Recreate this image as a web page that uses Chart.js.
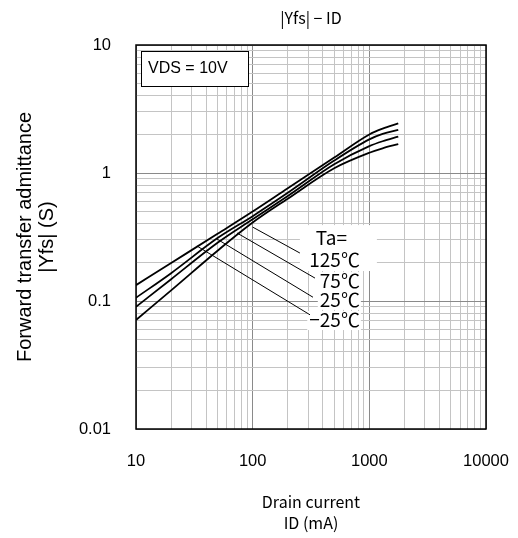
<!DOCTYPE html>
<html>
<head>
<meta charset="utf-8">
<script src="https://cdn.jsdelivr.net/npm/chart.js@4.4.1/dist/chart.umd.min.js"></script>
<style>
  html, body { margin: 0; padding: 0; background: #fff; }
  #wrap { width: 518px; height: 538px; }
</style>
</head>
<body>
<div id="wrap"><canvas id="chart" width="518" height="538"></canvas></div>
<script>
// drain current (mA) and forward transfer admittance |Yfs| (S) per ambient temperature
const drainCurrent = [10, 20, 50, 100, 200, 500, 1000, 1300, 1770];
const yfsMinus25 = [0.133, 0.198, 0.335, 0.50, 0.76, 1.32, 2.00, 2.22, 2.44];
const yfs25 = [0.106, 0.165, 0.31, 0.46, 0.70, 1.25, 1.83, 2.02, 2.17];
const yfs75 = [0.090, 0.148, 0.285, 0.435, 0.66, 1.17, 1.62, 1.77, 1.92];
const yfs125 = [0.071, 0.121, 0.247, 0.41, 0.63, 1.09, 1.44, 1.56, 1.68];

const tempLabels = ['−25℃', '25℃', '75℃', '125℃'];
const xTickLabels = [10, 100, 1000, 10000];
const yTickLabels = [0.01, 0.1, 1, 10];

// leader lines from curve to label (data units)
const leaderFrom = [[33.3, 0.269], [49.4, 0.305], [73.4, 0.34], [100, 0.378]];
const leaderTo = [[310, 0.078], [329, 0.107], [342, 0.151], [254, 0.237]];
const labelY = [0.071, 0.102, 0.143, 0.209];
const labelRightX = 830;

function allLogTicks(min, max) {
    const ticks = [];
    for (let d = min; d < max; d *= 10) {
        for (let m = 1; m <= 9; m++) ticks.push({ value: +(d * m).toPrecision(3) });
    }
    ticks.push({ value: max });
    return ticks;
}

function isDecade(v) {
    const l = Math.log10(v);
    return Math.abs(l - Math.round(l)) < 1e-6;
}

function makeSeries(ys) {
    return drainCurrent.map((x, i) => ({ x: x, y: ys[i] }));
}

const seriesList = [yfsMinus25, yfs25, yfs75, yfs125];

const extrasPlugin = {
    id: 'extras',
    afterDraw(chart) {
        const ctx = chart.ctx;
        const area = chart.chartArea;
        const xs = chart.scales.x;
        const ys = chart.scales.y;
        ctx.save();

        // title
        ctx.fillStyle = '#000';
        ctx.font = '16px "Noto Sans CJK JP"';
        ctx.textAlign = 'center';
        ctx.textBaseline = 'middle';
        ctx.fillText('|Yfs| − ID', (area.left + area.right) / 2, 18);

        // condition box
        ctx.fillStyle = '#fff';
        ctx.fillRect(area.left + 5, area.top + 6, 107, 35);
        ctx.strokeStyle = '#000';
        ctx.lineWidth = 1;
        ctx.strokeRect(area.left + 5.5, area.top + 6.5, 107, 35);
        ctx.fillStyle = '#000';
        ctx.font = '16px "Liberation Sans"';
        ctx.textAlign = 'left';
        ctx.fillText('VDS = 10V', area.left + 12, area.top + 24);

        // label backgrounds
        const rx = xs.getPixelForValue(labelRightX);
        ctx.font = '19px "Noto Sans CJK JP"';
        const taY = ys.getPixelForValue(0.31);
        const y125 = ys.getPixelForValue(labelY[3]);
        ctx.fillStyle = '#fff';
        ctx.fillRect(rx - 60, taY - 13, 77, y125 - taY + 24);
        for (let i = 0; i < 3; i++) {
            const py = ys.getPixelForValue(labelY[i]);
            const w = ctx.measureText(tempLabels[i]).width;
            ctx.fillRect(rx - w - 2, py - 9, w + 3, 19);
        }

        // leaders
        ctx.strokeStyle = '#000';
        ctx.lineWidth = 1;
        for (let i = 0; i < 4; i++) {
            ctx.beginPath();
            ctx.moveTo(xs.getPixelForValue(leaderFrom[i][0]), ys.getPixelForValue(leaderFrom[i][1]));
            ctx.lineTo(xs.getPixelForValue(leaderTo[i][0]), ys.getPixelForValue(leaderTo[i][1]));
            ctx.stroke();
        }

        // labels
        ctx.fillStyle = '#000';
        ctx.textAlign = 'right';
        ctx.textBaseline = 'middle';
        ctx.fillText('Ta=', xs.getPixelForValue(643), taY);
        for (let i = 0; i < 4; i++) {
            ctx.fillText(tempLabels[i], rx, ys.getPixelForValue(labelY[i]));
        }

        // frame
        ctx.strokeStyle = '#000';
        ctx.lineWidth = 1.5;
        ctx.strokeRect(area.left, area.top, area.right - area.left, area.bottom - area.top);
        ctx.restore();
    }
};

const gridColor = (c) => (c.tick && isDecade(c.tick.value)) ? '#8a8a8a' : '#c4c4c4';

new Chart(document.getElementById('chart'), {
    type: 'line',
    data: {
        datasets: seriesList.map((ys, i) => ({
            label: tempLabels[i],
            data: makeSeries(ys),
            borderColor: '#000',
            borderWidth: 1.8,
            pointRadius: 0,
            cubicInterpolationMode: 'monotone',
            fill: false
        }))
    },
    options: {
        responsive: false,
        animation: false,
        layout: { padding: { top: 45, right: 32, left: 0, bottom: 0 } },
        plugins: {
            legend: { display: false },
            tooltip: { enabled: false },
            title: { display: false }
        },
        scales: {
            x: {
                type: 'logarithmic',
                position: 'bottom',
                min: 10,
                max: 10000,
                afterBuildTicks: (s) => { s.ticks = allLogTicks(10, 10000); },
                afterFit: (s) => { s.height = 109; s.paddingLeft = 0; s.paddingRight = 0; },
                grid: { color: gridColor, lineWidth: 1, drawTicks: false },
                border: { display: false },
                ticks: {
                    autoSkip: false,
                    maxRotation: 0,
                    padding: 23,
                    color: '#000',
                    font: { family: 'Liberation Sans', size: 16.5 },
                    callback: (v) => xTickLabels.includes(v) ? String(v) : ''
                },
                title: {
                    display: true,
                    text: ['Drain current', 'ID (mA)'],
                    color: '#000',
                    font: { family: 'Noto Sans CJK JP', size: 16, lineHeight: 1.3 },
                    padding: { top: 0, bottom: 5 }
                }
            },
            y: {
                type: 'logarithmic',
                min: 0.01,
                max: 10,
                afterBuildTicks: (s) => { s.ticks = allLogTicks(0.01, 10); },
                afterFit: (s) => { s.width = 136; s.paddingTop = 0; s.paddingBottom = 0; },
                grid: { color: gridColor, lineWidth: 1, drawTicks: false },
                border: { display: false },
                ticks: {
                    autoSkip: false,
                    padding: 25,
                    color: '#000',
                    font: { family: 'Liberation Sans', size: 16.5 },
                    callback: (v) => yTickLabels.includes(v) ? String(v) : ''
                },
                title: {
                    display: true,
                    text: ['Forward transfer admittance', '|Yfs| (S)'],
                    color: '#000',
                    font: { family: 'Liberation Sans', size: 20, lineHeight: 1.1 },
                    padding: { top: 14, bottom: 0 }
                }
            }
        }
    },
    plugins: [extrasPlugin]
});
</script>
</body>
</html>
